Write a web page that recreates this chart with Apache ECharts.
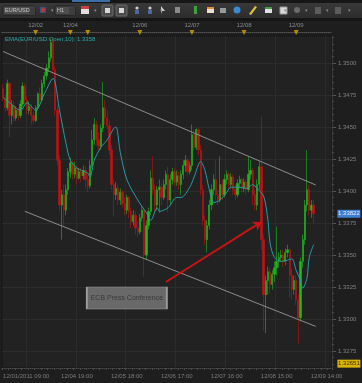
<!DOCTYPE html>
<html><head><meta charset="utf-8">
<script src="https://cdn.jsdelivr.net/npm/echarts@6/dist/echarts.min.js"></script>
<style>html,body{margin:0;padding:0;background:#1e1e1e;}#c{width:362px;height:383px;}</style>
</head><body><div id="c"></div>
<script>
// ---- data (prices in pips: 3480 -> 1.3480) ----
const sessions = [
  {y:2011, m:12, d:1, h:9,  n:31},
  {y:2011, m:12, d:4, h:16, n:121}
];
const openP = [
3480,3473,3465,3484,3459,3467,3457,3463,3459,3468,
3482,3471,3463,3466,3459,3455,3465,3476,3471,3484,
3490,3496,3504,3516,3495,3463,3424,3389,3397,3385,
3401,3415,3422,3413,3418,3410,3415,3412,3416,3409,
3404,3420,3440,3452,3440,3435,3449,3465,3457,3451,
3432,3405,3397,3402,3393,3399,3390,3385,3395,3384,
3376,3381,3371,3368,3379,3385,3350,3373,3384,3410,
3401,3389,3401,3403,3395,3405,3413,3393,3409,3415,
3407,3412,3405,3413,3420,3424,3415,3420,3444,3434,
3448,3432,3401,3377,3362,3373,3389,3401,3409,3397,
3393,3405,3397,3409,3413,3405,3411,3401,3397,3406,
3409,3402,3407,3401,3413,3416,3397,3389,3405,3419,
3362,3319,3330,3337,3327,3335,3340,3345,3348,3350,
3345,3352,3354,3334,3323,3330,3315,3301,3345,3362,
3389,3401,3385,3389];
const closeP = [
3473,3465,3484,3459,3467,3457,3463,3459,3468,3482,
3471,3463,3466,3459,3455,3465,3476,3471,3484,3490,
3496,3504,3516,3495,3463,3424,3389,3397,3385,3401,
3415,3422,3413,3418,3410,3415,3412,3416,3409,3404,
3420,3440,3452,3440,3435,3449,3465,3457,3451,3432,
3405,3397,3402,3393,3399,3390,3385,3395,3384,3376,
3381,3371,3368,3379,3385,3350,3373,3384,3410,3401,
3389,3401,3403,3395,3405,3413,3393,3409,3415,3407,
3412,3405,3413,3420,3424,3415,3420,3444,3434,3448,
3432,3401,3377,3362,3373,3389,3401,3409,3397,3393,
3405,3397,3409,3413,3405,3411,3401,3397,3406,3409,
3402,3407,3401,3413,3416,3397,3389,3405,3419,3362,
3319,3330,3337,3327,3335,3340,3345,3348,3350,3345,
3352,3354,3334,3323,3330,3315,3301,3345,3362,3389,
3401,3385,3389,3382.2];
const lowP = [
3470,3462,3463,3442,3452,3454,3455,3455,3457,3466,
3468,3460,3460,3452,3452,3454,3463,3468,3470,3481,
3487,3493,3501,3491,3459,3420,3384,3362,3373,3381,
3397,3410,3409,3410,3405,3409,3407,3409,3402,3399,
3402,3418,3436,3436,3432,3432,3446,3452,3448,3428,
3401,3380,3393,3389,3389,3387,3381,3382,3379,3371,
3373,3366,3364,3366,3376,3333,3346,3370,3381,3397,
3384,3385,3383,3389,3393,3401,3383,3389,3405,3404,
3404,3401,3397,3409,3415,3412,3413,3416,3431,3432,
3428,3397,3373,3358,3352,3370,3385,3397,3393,3389,
3391,3393,3395,3405,3401,3402,3397,3393,3395,3402,
3399,3399,3397,3399,3409,3389,3385,3385,3401,3354,
3291,3289,3319,3320,3323,3329,3334,3340,3345,3341,
3342,3348,3317,3315,3319,3311,3281,3298,3340,3358,
3384,3381,3379,3375];
const highP = [
3484,3475,3487,3485,3471,3470,3466,3465,3471,3485,
3484,3474,3470,3468,3462,3467,3477,3481,3487,3493,
3499,3509,3519,3519,3498,3467,3428,3401,3405,3405,
3418,3426,3424,3423,3420,3418,3418,3420,3419,3413,
3424,3448,3457,3455,3446,3452,3485,3471,3463,3455,
3436,3409,3407,3405,3402,3401,3395,3397,3396,3387,
3385,3384,3376,3382,3388,3387,3377,3387,3416,3427,
3405,3404,3409,3406,3409,3416,3419,3413,3418,3418,
3416,3415,3416,3424,3428,3426,3423,3452,3448,3449,
3449,3436,3405,3381,3377,3393,3405,3413,3424,3401,
3427,3409,3413,3416,3415,3414,3413,3405,3409,3412,
3410,3410,3409,3427,3424,3418,3401,3409,3423,3458,
3366,3334,3341,3340,3338,3345,3372,3352,3354,3354,
3355,3358,3355,3340,3334,3334,3319,3348,3366,3393,
3432,3405,3393,3393];
// EMA(Open,10): [candle index, pips]
const emaPoints = [[0,3473],[3,3469],[8,3463],[11,3469],[15,3463],[19,3476],[23,3488],[26,3463],[29,3437],[31,3424],[34,3418],[39,3414],[40,3411],[42,3424],[45,3434],[48,3440],[51,3449],[52,3450],[54,3430],[57,3409],[62,3393],[66,3383],[68,3377],[71,3387],[72,3384],[76,3387],[80,3395],[82,3395],[86,3403],[88,3411],[91,3423],[93,3416],[95,3401],[97,3391],[100,3393],[103,3399],[105,3403],[109,3403],[112,3402],[115,3405],[117,3402],[120,3396],[122,3377],[123,3359],[125,3348],[128,3345],[131,3346],[133,3347],[135,3338],[137,3330],[138,3324],[140,3332],[141,3348],[143,3358]];
const bottomLabelIdx = [0,34,57,80,103,126,149];
const topLabelIdx = [15,31,63,87,111,135];
const dayStartIdx = [15,31,39,63,87,111,135];
const gridLineIdx = [11,34,57,80,103,126,149];
const yTickLabels = [1.3275,1.3300,1.3325,1.3350,1.3375,1.3400,1.3425,1.3450,1.3475,1.3500];
const yMinorTicks = [];
for (let v = 13265; v <= 13520; v += 5) yMinorTicks.push(v/10000);
const yMin = 1.32617, yMax = 1.35211;
const lastPrice = 1.33822;
const lowMarker = 1.32651;
const emaValue = 1.3358;
const upperTrend = [[0,1.35090],[144,1.34047]];
const lowerTrend = [[10,1.33841],[144,1.32942]];
const arrowPts = [[75,1.33289],[119,1.33758]];
const noteAt = [57,1.33164];
const noteText = 'ECB Press Conference';
const symbolText = 'EUR/USD';
const periodText = 'H1';

// ---- build ----
const pad = n => (n<10?'0':'')+n;
const categories = [];
sessions.forEach(s => {
  for (let k=0;k<s.n;k++){
    const t = new Date(Date.UTC(s.y, s.m-1, s.d, s.h+k));
    categories.push(pad(t.getUTCMonth()+1)+'/'+pad(t.getUTCDate())+'/'+t.getUTCFullYear()+' '+pad(t.getUTCHours())+':00');
  }
});
const lastIdx = categories.length - 1;
const toPrice = p => +(1 + p/10000).toFixed(5);
const candles = openP.map((o,i)=>[toPrice(o),toPrice(closeP[i]),toPrice(lowP[i]),toPrice(highP[i])]);
const ema = emaPoints.map(p=>[p[0], toPrice(p[1])]);

const FONT = 'Liberation Sans, Arial, sans-serif';
const chart = echarts.init(document.getElementById('c'), null, {renderer:'canvas'});

const g = [];
g.push({type:'rect', shape:{x:0,y:0,width:362,height:20}, style:{fill:{type:'linear',x:0,y:0,x2:0,y2:1,colorStops:[{offset:0,color:'#3b3b3b'},{offset:1,color:'#2b2b2b'}]}}});
g.push({type:'rect', shape:{x:0,y:0,width:362,height:3}, style:{fill:'#161616'}});
g.push({type:'rect', shape:{x:72,y:0,width:38,height:2}, style:{fill:'#3a6ea5'}});
g.push({type:'rect', shape:{x:0,y:18,width:362,height:3}, style:{fill:'#151515'}});
g.push({type:'rect', shape:{x:3,y:6,width:32,height:9,r:1}, style:{fill:'#4e4e4e',stroke:'#1e1e1e'}});
g.push({type:'rect', shape:{x:29,y:6,width:6,height:9}, style:{fill:'#3e3e3e'}});
g.push({type:'text', x:5, y:10.5, style:{text:symbolText, fill:'#c8c8c8', fontSize:5.5, fontFamily:FONT, verticalAlign:'middle'}});
g.push({type:'rect', shape:{x:40,y:7,width:6,height:6}, style:{fill:'#3d4f80'}});
g.push({type:'circle', shape:{cx:43,cy:10,r:2}, style:{fill:'#d03030'}});
g.push({type:'rect', shape:{x:55,y:6,width:20,height:9,r:1}, style:{fill:'#4e4e4e',stroke:'#1e1e1e'}});
g.push({type:'rect', shape:{x:69,y:6,width:6,height:9}, style:{fill:'#3e3e3e'}});
g.push({type:'text', x:57, y:10.5, style:{text:periodText, fill:'#c8c8c8', fontSize:5.5, fontFamily:FONT, verticalAlign:'middle'}});
g.push({type:'rect', shape:{x:81,y:6,width:8,height:8}, style:{fill:'#e0e0e0'}});
g.push({type:'rect', shape:{x:81,y:6,width:8,height:3}, style:{fill:'#c84040'}});
[[102,5],[116,5]].forEach(p=>{
  g.push({type:'rect', shape:{x:p[0],y:p[1],width:11,height:11,r:1}, style:{fill:'#4a4a4a',stroke:'#6a6a6a'}});
  g.push({type:'rect', shape:{x:p[0]+3,y:p[1]+3,width:5,height:5}, style:{fill:'#d8d8d8'}});
});
[135,148].forEach(x=>{
  g.push({type:'circle', shape:{cx:x+2,cy:8,r:1.6}, style:{fill:'#d0d0d0'}});
  g.push({type:'rect', shape:{x:x,y:10,width:4,height:4}, style:{fill:'#4a6aa0'}});
});
g.push({type:'polygon', shape:{points:[[161,6],[165,11],[162,11],[161,14]]}, style:{fill:'#d0d0d0'}});
g.push({type:'rect', shape:{x:175,y:7,width:5,height:6}, style:{fill:'#8a8a8a'}});
g.push({type:'rect', shape:{x:194,y:6,width:3,height:8}, style:{fill:'#3aa33a'}});
g.push({type:'rect', shape:{x:207,y:7,width:7,height:6}, style:{fill:'#e8e0d0'}});
g.push({type:'rect', shape:{x:207,y:7,width:7,height:2}, style:{fill:'#e09030'}});
g.push({type:'rect', shape:{x:220,y:8,width:6,height:5}, style:{fill:'#9a9a9a'}});
g.push({type:'circle', shape:{cx:237,cy:10,r:3.5}, style:{fill:'#3a8ad0'}});
g.push({type:'polygon', shape:{points:[[249,14],[255,6],[257,7],[251,15]]}, style:{fill:'#e0c040'}});
g.push({type:'rect', shape:{x:265,y:7,width:7,height:6}, style:{fill:'#e0e0e0'}});
g.push({type:'rect', shape:{x:265,y:7,width:7,height:2}, style:{fill:'#40a040'}});
g.push({type:'rect', shape:{x:280,y:7,width:7,height:7}, style:{fill:'#d8d8d8',stroke:'#9a9a9a'}});
g.push({type:'circle', shape:{cx:297,cy:10,r:3}, style:{fill:'#6a6a6a'}});
g.push({type:'rect', shape:{x:315,y:7,width:6,height:7}, style:{fill:'#5c5c5c'}});
g.push({type:'rect', shape:{x:335,y:7,width:6,height:7}, style:{fill:'#5c5c5c'}});
[51,94,160,284,305,326,348].forEach(x=>{
  g.push({type:'text', x:x, y:10.5, style:{text:'▾', fill:'#8a8a8a', fontSize:5, verticalAlign:'middle'}});
});
g.push({type:'text', x:5, y:39, style:{text:'EMA(EUR/USD.Open,10): '+emaValue.toFixed(4), fill:'#2aa6a6', fontSize:6, fontFamily:FONT, verticalAlign:'middle'}, z:100});

const priceTag = (value, fill, textColor) => ({
  coord:[lastIdx, value], symbol:'rect', symbolSize:[23,8], symbolOffset:[18,0],
  itemStyle:{color:fill},
  label:{show:true, position:'inside', formatter:value.toFixed(5), color:textColor, fontSize:6}
});

const option = {
  animation:false,
  backgroundColor:'#1e1e1e',
  textStyle:{fontFamily:FONT},
  graphic:g,
  grid:[
    {left:2, right:30, top:36, bottom:15, show:true, backgroundColor:'#222222', borderColor:'#141414', borderWidth:1},
    {left:2, right:30, top:30, height:5}
  ],
  xAxis:[
    {type:'category', gridIndex:0, data:categories,
     axisLine:{lineStyle:{color:'#4a4a4a', type:'dotted'}},
     axisTick:{show:true, interval:(i)=>i%3===0, length:2, lineStyle:{color:'#4a4a4a'}},
     axisLabel:{interval:(i)=>bottomLabelIdx.includes(i), color:'#7c7c7c', fontSize:6, margin:5, alignMinLabel:'left',
       formatter:(v,i)=> i===0 ? v : v.slice(0,5)+' '+v.slice(11)},
     splitLine:{show:true, interval:(i)=>gridLineIdx.includes(i), lineStyle:{color:'#2c2c2c'}}},
    {type:'category', gridIndex:1, data:categories, position:'top',
     axisLine:{lineStyle:{color:'#555', type:'dotted'}},
     axisTick:{show:false},
     axisLabel:{interval:(i)=>topLabelIdx.includes(i), color:'#8a8a8a', fontSize:6, margin:2,
       formatter:(v)=>v.slice(0,5)},
     splitLine:{show:false}}
  ],
  yAxis:[
    {type:'value', gridIndex:0, position:'right', min:yMin, max:yMax,
     axisLine:{show:true, lineStyle:{color:'#3a3a3a'}},
     axisTick:{show:true, length:4, customValues:yTickLabels, lineStyle:{color:'#555'}},
     axisLabel:{customValues:yTickLabels, color:'#808080', fontSize:6, margin:6, formatter:(v)=>v.toFixed(4)},
     splitLine:{show:true, lineStyle:{color:'#2c2c2c'}}},
    {type:'value', gridIndex:0, position:'right', min:yMin, max:yMax,
     axisLine:{show:false},
     axisTick:{show:true, length:2, customValues:yMinorTicks, lineStyle:{color:'#4a4a4a'}},
     axisLabel:{show:false}, splitLine:{show:false}},
    {type:'value', gridIndex:1, min:-1, max:1, show:false}
  ],
  series:[
    {type:'candlestick', xAxisIndex:0, yAxisIndex:0, data:candles, barWidth:1.8, clip:false,
     itemStyle:{color:'#1fb81f', color0:'#c01212', borderColor:'#1fb81f', borderColor0:'#c01212', borderWidth:0.6},
     markLine:{silent:true, animation:false, symbol:'none', label:{show:false},
       data:[
         [{coord:upperTrend[0], lineStyle:{color:'#8c8c8c', width:1, type:'solid'}},{coord:upperTrend[1]}],
         [{coord:lowerTrend[0], lineStyle:{color:'#8c8c8c', width:1, type:'solid'}},{coord:lowerTrend[1]}],
         [{coord:arrowPts[0], symbol:'none', lineStyle:{color:'#c81414', width:2, type:'solid'}},{coord:arrowPts[1], symbol:'arrow', symbolSize:8}]
       ]},
     markPoint:{silent:true, animation:false,
       data:[
         {coord:noteAt, symbol:'rect', symbolSize:[80,22],
          itemStyle:{color:'rgba(118,118,118,0.85)', borderColor:'#9c9c9c', borderWidth:1},
          label:{show:true, position:'inside', formatter:noteText, color:'#383838', fontSize:7}},
         priceTag(lastPrice, '#3f7fd0', '#e8eef8'),
         priceTag(lowMarker, '#d8b400', '#3a3000')
       ]}
    },
    {type:'line', xAxisIndex:0, yAxisIndex:0, data:ema, smooth:0.3, showSymbol:false, symbol:'none',
     lineStyle:{color:'#2b98a6', width:1}, z:3},
    {type:'scatter', xAxisIndex:1, yAxisIndex:2, data:dayStartIdx.map(i=>[i,0]),
     symbol:'triangle', symbolRotate:180, symbolSize:[5,5], itemStyle:{color:'#d9a400'}}
  ]
};
chart.setOption(option);
</script></body></html>
